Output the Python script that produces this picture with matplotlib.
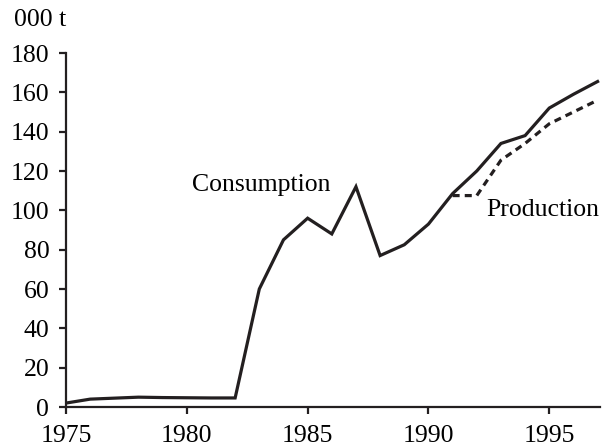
import matplotlib.pyplot as plt

years = list(range(1975, 1998))
consumption = [2, 4, 4.5, 5, 4.8, 4.7, 4.6, 4.6, 60, 85, 96, 88, 112, 77, 82.5, 93,
               108.5, 120, 134, 138, 152, 159, 165.5]
prod_years = list(range(1991, 1998))
production = [107.5, 107.5, 125.5, 134, 144, 150, 156]

plt.rcParams['font.family'] = ['Liberation Serif', 'DejaVu Serif']

fig = plt.figure(figsize=(6.14, 4.47), dpi=100)
ax = fig.add_axes([66 / 614, 1 - 407 / 447, 534 / 614, 354 / 447])

ax.plot(years, consumption, color='#231f20', linewidth=2.3, solid_joinstyle='miter')
ax.plot(prod_years, production, color='#231f20', linewidth=2.3, linestyle=(0, (2.2, 1.6)))

ax.set_xlim(1975, 1997.1)
ax.set_ylim(0, 180)
ax.set_xticks([1975, 1980, 1985, 1990, 1995])
ax.set_yticks(range(0, 181, 20))
for s in ['top', 'right']:
    ax.spines[s].set_visible(False)
for s in ['left', 'bottom']:
    ax.spines[s].set_linewidth(1.6)
    ax.spines[s].set_color('#231f20')
ax.tick_params(labelsize=18.5, length=5, width=1.6, color='#231f20')
ax.tick_params(axis='y', pad=7)
ax.tick_params(axis='x', pad=8)

ax.text(1980.2, 113, 'Consumption', fontsize=18.5, va='center', ha='left')
ax.text(1992.4, 100, 'Production', fontsize=18.5, va='center', ha='left')
fig.text(14 / 614, 1 - 20 / 447, '000 t', fontsize=18.5, va='center', ha='left')

fig.savefig('out.png', dpi=100)
